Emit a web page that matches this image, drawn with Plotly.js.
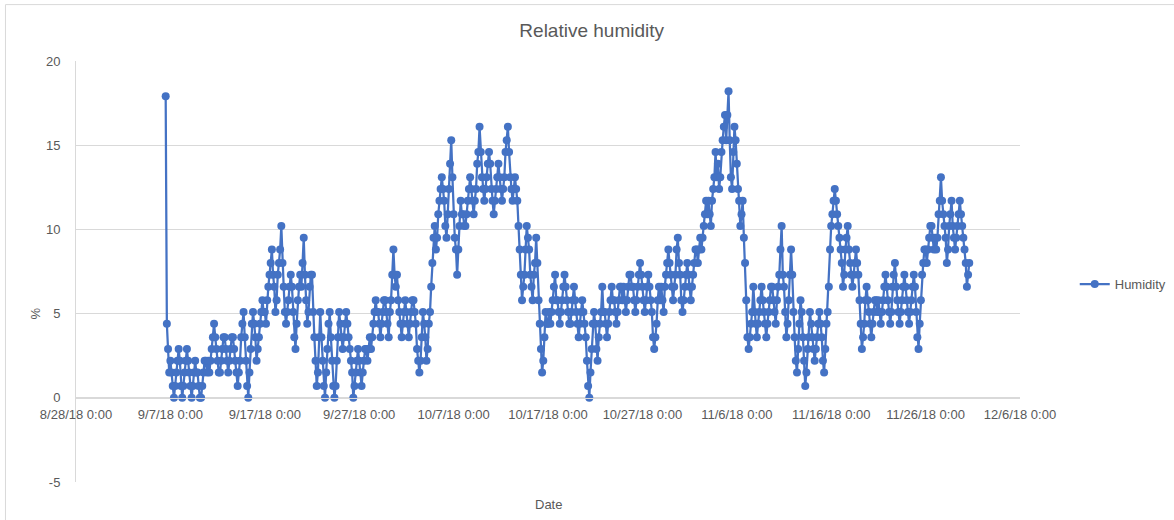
<!DOCTYPE html>
<html>
<head>
<meta charset="utf-8">
<script src="https://cdn.plot.ly/plotly-3.0.1.min.js"></script>
<style>
  html, body { margin: 0; padding: 0; background: #ffffff; }
  #chart { width: 1174px; height: 520px; }
</style>
</head>
<body>
<div id="chart"></div>
<script>
// ---- Data ----
// Readings every 3 hours, first reading at 2018-09-06 12:00
var seriesName = "Humidity";
var startTime = "2018-09-06T12:00:00";
var stepHours = 3;

var humSep = [
  17.9, 4.4, 2.9, 1.5,                        // 9/6 (12h-21h)
  2.2, 1.5, 0.7, 0, 0.7, 1.5, 2.2, 2.9,       // 9/7
  2.2, 0.7, 0, 0.7, 1.5, 2.2, 2.9, 2.2,       // 9/8
  1.5, 0.7, 0, 0.7, 1.5, 2.2, 1.5, 1.5,       // 9/9
  0.7, 0, 0, 0.7, 1.5, 2.2, 2.2, 1.5,         // 9/10
  2.2, 1.5, 2.2, 2.9, 3.6, 4.4, 3.6, 2.9,     // 9/11
  2.2, 1.5, 1.5, 2.2, 2.9, 3.6, 3.6, 2.9,     // 9/12
  2.2, 1.5, 2.2, 2.9, 3.6, 3.6, 2.9, 2.2,     // 9/13
  1.5, 0.7, 1.5, 2.2, 3.6, 4.4, 5.1, 3.6,     // 9/14
  2.2, 0.7, 0, 1.5, 2.9, 4.4, 5.1, 4.4,       // 9/15
  3.6, 2.2, 2.9, 3.6, 4.4, 5.1, 5.8, 5.1,     // 9/16
  5.1, 4.4, 5.8, 6.6, 7.3, 8.0, 8.8, 7.3,     // 9/17
  6.6, 5.1, 5.8, 7.3, 8.0, 8.8, 10.2, 8.0,    // 9/18
  6.6, 5.1, 4.4, 5.1, 5.8, 6.6, 7.3, 6.6,     // 9/19
  5.1, 3.6, 2.9, 4.4, 5.8, 6.6, 7.3, 6.6,     // 9/20
  8.0, 9.5, 7.3, 5.8, 4.4, 5.1, 6.6, 7.3,     // 9/21
  7.3, 5.1, 3.6, 2.2, 0.7, 1.5, 3.6, 5.1,     // 9/22
  3.6, 2.2, 0.7, 0, 1.5, 2.9, 4.4, 5.1,       // 9/23
  3.6, 2.2, 0.7, 0, 0.7, 2.2, 3.6, 5.1,       // 9/24
  4.4, 3.6, 2.9, 3.6, 4.4, 5.1, 4.4, 3.6,     // 9/25
  2.9, 2.2, 1.5, 0, 0.7, 1.5, 2.2, 2.9,       // 9/26
  2.2, 1.5, 0.7, 1.5, 2.2, 2.9, 2.9, 2.2,     // 9/27
  2.9, 3.6, 2.9, 3.6, 4.4, 5.1, 5.8, 5.1,     // 9/28
  5.1, 4.4, 3.6, 4.4, 5.1, 5.8, 5.8, 5.1,     // 9/29
  4.4, 3.6, 5.1, 5.8, 7.3, 8.8, 7.3, 6.6      // 9/30
];
var humOct = [
  7.3, 5.8, 5.1, 4.4, 3.6, 4.4, 5.1, 5.8,         // 10/1
  5.1, 4.4, 3.6, 4.4, 5.1, 5.8, 5.8, 5.1,         // 10/2
  4.4, 2.9, 2.2, 1.5, 2.2, 3.6, 5.1, 4.4,         // 10/3
  3.6, 2.2, 2.9, 4.4, 5.1, 6.6, 8.0, 9.5,         // 10/4
  10.2, 8.8, 9.5, 10.9, 11.7, 12.4, 13.1, 12.4,   // 10/5
  11.7, 10.2, 9.5, 10.9, 12.4, 13.9, 15.3, 13.1,  // 10/6
  10.9, 9.5, 8.8, 7.3, 8.8, 10.2, 11.7, 10.9,     // 10/7
  10.9, 10.2, 10.2, 10.9, 11.7, 12.4, 13.1, 12.4, // 10/8
  11.7, 10.9, 11.7, 12.4, 13.9, 14.6, 16.1, 14.6, // 10/9
  13.1, 12.4, 11.7, 12.4, 13.1, 13.9, 14.6, 13.9, // 10/10
  12.4, 11.7, 10.9, 11.7, 12.4, 13.1, 13.9, 13.1, // 10/11
  12.4, 11.7, 12.4, 13.1, 14.6, 15.3, 16.1, 14.6, // 10/12
  13.1, 12.4, 11.7, 12.4, 13.1, 12.4, 11.7, 10.2, // 10/13
  8.8, 7.3, 5.8, 6.6, 7.3, 8.8, 10.2, 9.5,        // 10/14
  8.8, 7.3, 6.6, 5.8, 7.3, 8.0, 9.5, 8.0,         // 10/15
  5.8, 4.4, 2.9, 1.5, 2.2, 3.6, 5.1, 4.4,         // 10/16
  4.4, 5.1, 4.4, 5.1, 5.8, 6.6, 7.3, 5.8,         // 10/17
  5.8, 5.1, 4.4, 5.1, 5.8, 6.6, 7.3, 6.6,         // 10/18
  5.8, 5.1, 4.4, 4.4, 5.1, 5.8, 6.6, 5.8,         // 10/19
  5.1, 4.4, 3.6, 4.4, 5.1, 5.8, 5.1, 4.4,         // 10/20
  3.6, 2.2, 0.7, 0, 1.5, 2.9, 4.4, 5.1,           // 10/21
  4.4, 2.9, 2.2, 3.6, 4.4, 5.1, 6.6, 5.1,         // 10/22
  5.1, 4.4, 3.6, 4.4, 5.1, 5.8, 6.6, 5.8,         // 10/23
  5.8, 5.1, 4.4, 5.1, 5.8, 6.6, 6.6, 5.8,         // 10/24
  6.6, 5.8, 5.1, 5.8, 6.6, 7.3, 7.3, 6.6,         // 10/25
  6.6, 5.8, 5.1, 5.8, 6.6, 7.3, 8.0, 7.3,         // 10/26
  6.6, 5.8, 5.1, 5.8, 6.6, 7.3, 6.6, 5.8,         // 10/27
  5.1, 3.6, 2.9, 3.6, 4.4, 5.8, 6.6, 5.8,         // 10/28
  6.6, 5.8, 5.1, 6.6, 7.3, 8.0, 8.8, 8.0,         // 10/29
  7.3, 6.6, 5.8, 6.6, 7.3, 8.8, 9.5, 8.0,         // 10/30
  7.3, 5.8, 5.1, 5.8, 6.6, 7.3, 8.0, 7.3          // 10/31
];
var humNov = [
  6.6, 5.8, 6.6, 7.3, 8.0, 8.8, 8.8, 8.0,         // 11/1
  8.8, 9.5, 8.8, 9.5, 10.2, 10.9, 11.7, 10.9,     // 11/2
  11.7, 10.9, 10.2, 11.7, 12.4, 13.1, 14.6, 13.1, // 11/3
  13.9, 12.4, 13.1, 14.6, 15.3, 16.1, 16.8, 15.3, // 11/4
  16.8, 18.2, 15.3, 13.1, 12.4, 14.6, 16.1, 15.3, // 11/5
  13.9, 12.4, 11.7, 10.2, 10.9, 11.7, 9.5, 8.0,   // 11/6
  5.8, 3.6, 2.9, 3.6, 4.4, 5.1, 6.6, 5.1,         // 11/7
  4.4, 3.6, 4.4, 5.1, 5.8, 6.6, 5.8, 5.1,         // 11/8
  4.4, 3.6, 4.4, 5.1, 5.8, 6.6, 6.6, 5.8,         // 11/9
  5.1, 4.4, 5.8, 6.6, 7.3, 8.8, 10.2, 7.3,        // 11/10
  6.6, 5.1, 3.6, 4.4, 5.8, 7.3, 8.8, 7.3,         // 11/11
  5.1, 3.6, 2.2, 1.5, 2.9, 4.4, 5.8, 5.1,         // 11/12
  3.6, 2.2, 0.7, 1.5, 2.9, 3.6, 5.1, 4.4,         // 11/13
  3.6, 2.9, 2.2, 2.9, 3.6, 4.4, 5.1, 4.4,         // 11/14
  3.6, 2.2, 1.5, 2.9, 4.4, 5.1, 6.6, 8.8,         // 11/15
  10.2, 10.9, 11.7, 12.4, 11.7, 10.9, 10.2, 9.5,  // 11/16
  8.8, 8.0, 6.6, 7.3, 8.8, 9.5, 10.2, 8.8,        // 11/17
  8.0, 7.3, 6.6, 7.3, 8.0, 8.8, 8.0, 7.3,         // 11/18
  5.8, 4.4, 2.9, 3.6, 4.4, 5.8, 6.6, 5.8,         // 11/19
  5.1, 4.4, 3.6, 4.4, 5.1, 5.8, 5.8, 5.1,         // 11/20
  5.8, 5.1, 4.4, 5.1, 5.8, 6.6, 7.3, 6.6,         // 11/21
  5.8, 5.1, 4.4, 5.1, 6.6, 7.3, 8.0, 6.6,         // 11/22
  5.8, 5.1, 4.4, 5.1, 5.8, 6.6, 7.3, 6.6,         // 11/23
  5.8, 5.1, 4.4, 5.1, 5.8, 6.6, 7.3, 6.6,         // 11/24
  5.1, 3.6, 2.9, 4.4, 5.8, 7.3, 8.0, 8.8,         // 11/25
  8.8, 8.0, 8.8, 9.5, 10.2, 10.2, 9.5, 8.8,       // 11/26
  9.5, 8.8, 9.5, 10.9, 11.7, 13.1, 11.7, 10.9,    // 11/27
  10.2, 9.5, 8.0, 8.8, 10.2, 10.9, 11.7, 10.2,    // 11/28
  9.5, 8.8, 9.5, 10.2, 10.9, 11.7, 10.9, 10.2,    // 11/29
  9.5, 8.8, 8.0, 6.6, 7.3, 8.0                    // 11/30 (0h-15h)
];

var xTickDates = ["2018-08-28", "2018-09-07", "2018-09-17", "2018-09-27", "2018-10-07",
                  "2018-10-17", "2018-10-27", "2018-11-06", "2018-11-16", "2018-11-26", "2018-12-06"];
var xTickLabels = ["8/28/18 0:00", "9/7/18 0:00", "9/17/18 0:00", "9/27/18 0:00", "10/7/18 0:00",
                   "10/17/18 0:00", "10/27/18 0:00", "11/6/18 0:00", "11/16/18 0:00", "11/26/18 0:00", "12/6/18 0:00"];
var yTickVals = [-5, 0, 5, 10, 15, 20];
var yTickLabels = ["-5", "0", "5", "10", "15", "20"];

// ---- Build series ----
var humidity = humSep.concat(humOct, humNov);
var t0 = new Date(startTime + "Z").getTime();
function fmt(ms) {
  var d = new Date(ms);
  function p(n) { return (n < 10 ? "0" : "") + n; }
  return d.getUTCFullYear() + "-" + p(d.getUTCMonth() + 1) + "-" + p(d.getUTCDate()) +
         " " + p(d.getUTCHours()) + ":" + p(d.getUTCMinutes());
}
var times = humidity.map(function (_, i) { return fmt(t0 + i * stepHours * 3600000); });

var textColor = "#595959";
var gridColor = "#d9d9d9";
var lineBlue = "#4472C4";
var fontFam = "Liberation Sans, Arial, sans-serif";

var trace = {
  type: "scatter",
  mode: "lines+markers",
  name: seriesName,
  x: times,
  y: humidity,
  line: { color: lineBlue, width: 2.25 },
  marker: { color: lineBlue, size: 8 },
  hoverinfo: "x+y"
};

var layout = {
  width: 1174,
  height: 520,
  margin: { l: 76, r: 154, t: 61, b: 38, autoexpand: false },
  paper_bgcolor: "#ffffff",
  plot_bgcolor: "#ffffff",
  font: { family: fontFam, size: 13, color: textColor },
  title: {
    text: "Relative humidity",
    font: { family: fontFam, size: 19, color: textColor },
    x: 0.504, xref: "container", xanchor: "center",
    y: 0.942, yref: "container", yanchor: "middle"
  },
  xaxis: {
    type: "date",
    range: ["2018-08-28", "2018-12-06"],
    tickmode: "array",
    tickvals: xTickDates,
    ticktext: xTickLabels,
    showgrid: false,
    zeroline: false,
    showline: true,
    linecolor: gridColor,
    linewidth: 1,
    ticks: "",
    anchor: "free",
    position: 0.2,
    automargin: false,
    tickfont: { family: fontFam, size: 13, color: textColor },
    ticklabelstandoff: 5,
    fixedrange: true
  },
  yaxis: {
    range: [-5, 20],
    tickmode: "array",
    tickvals: yTickVals,
    ticktext: yTickLabels,
    showgrid: true,
    gridcolor: gridColor,
    gridwidth: 1,
    zeroline: false,
    showline: true,
    linecolor: gridColor,
    linewidth: 1,
    ticks: "",
    automargin: false,
    ticklabelstandoff: 12,
    tickfont: { family: fontFam, size: 13, color: textColor },
    fixedrange: true
  },
  showlegend: true,
  legend: {
    x: 1.058, xanchor: "left",
    y: 0.47, yanchor: "middle",
    font: { family: fontFam, size: 13, color: textColor },
    bgcolor: "rgba(0,0,0,0)"
  },
  annotations: [{
    text: "Date",
    xref: "paper", yref: "paper",
    x: 0.5, y: -0.03, xanchor: "center", yanchor: "top",
    showarrow: false,
    font: { family: fontFam, size: 13, color: textColor }
  }, {
    text: "%",
    xref: "paper", yref: "paper",
    x: -0.0424, y: 0.4, xanchor: "center", yanchor: "middle",
    textangle: -90,
    showarrow: false,
    font: { family: fontFam, size: 13, color: textColor }
  }],
  shapes: [{
    type: "rect", xref: "paper", yref: "paper",
    x0: -0.0747, x1: 1.3, y0: -0.3, y1: 1.134,
    line: { color: gridColor, width: 1 },
    fillcolor: "rgba(0,0,0,0)",
    layer: "below"
  }]
};

Plotly.newPlot("chart", [trace], layout, { displayModeBar: false, staticPlot: true });
</script>
</body>
</html>
